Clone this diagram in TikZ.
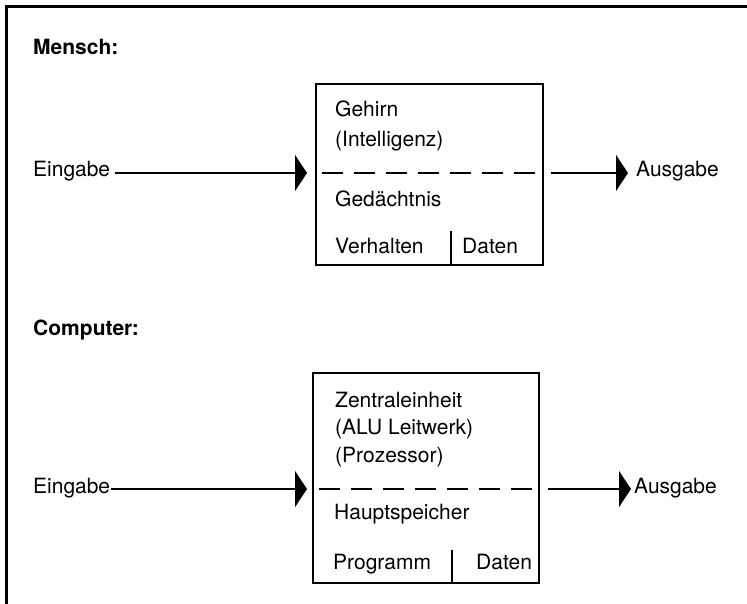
\documentclass[tikz,border=0pt]{standalone}
\usepackage{fontspec}
\setmainfont{TeX Gyre Heros}
\usetikzlibrary{arrows.meta}

\begin{document}
\begin{tikzpicture}[x=1pt, y=-1pt,
    txt/.style={anchor=base west, inner sep=0pt, font=\fontsize{21}{25}\selectfont},
    titel/.style={anchor=base west, inner sep=0pt, font=\fontsize{21}{25}\selectfont\bfseries},
    kasten/.style={draw, line width=2.5pt, inner sep=0pt},
    pfeil/.style={line width=1.8pt, -{Triangle[length=12pt, width=36pt]}},
    trenn/.style={line width=2pt, dash pattern=on 21pt off 11pt}]
  \useasboundingbox (0,0) rectangle (747,604);
  \draw[line width=3pt] (6,604) -- (6,7) -- (747,7);

  % Mensch
  \node[titel] (mensch) at (33,55) {Mensch:};
  \node[kasten, minimum width=227pt, minimum height=181pt] (hirn) at (429.5,174.5) {};
  \node[txt] (gehirn) at (335,117) {Gehirn};
  \node[txt] (intel) at (335,147) {(Intelligenz)};
  \node[txt] (gedae) at (335,207) {Gedächtnis};
  \node[txt] (verh) at (335,254) {Verhalten};
  \node[txt] (daten1) at (462,254) {Daten};
  \draw[line width=2.5pt] (451,231) -- (451,231 |- hirn.south);
  \coordinate (tl1) at (316,173);
  \coordinate (tr1) at (543,173);
  \draw[trenn, shorten <=6pt, shorten >=6pt] (tl1) -- (tr1);
  \node[txt] (ein1) at (33,177) {Eingabe};
  \node[txt] (aus1) at (636,177) {Ausgabe};
  \draw[pfeil, shorten <=5pt, shorten >=9pt] (ein1.east |- tl1) -- (tl1);
  \draw[pfeil, shorten <=8pt, shorten >=8pt] (tr1) -- (tr1 -| aus1.west);

  % Computer
  \node[titel] (comp) at (33,335) {Computer:};
  \node[kasten, minimum width=226pt, minimum height=210pt] (rechner) at (426,478) {};
  \node[txt] (zentral) at (335,407) {Zentraleinheit};
  \node[txt] (alu) at (335,434) {(ALU Leitwerk)};
  \node[txt] (proz) at (335,462) {(Prozessor)};
  \node[txt] (haupt) at (334,519) {Hauptspeicher};
  \node[txt] (prog) at (333,569) {Programm};
  \node[txt] (daten2) at (476,569) {Daten};
  \draw[line width=2.5pt] (452,550) -- (452,550 |- rechner.south);
  \coordinate (tl2) at (313,489);
  \coordinate (tr2) at (539,489);
  \draw[trenn, shorten <=6pt, shorten >=6pt] (tl2) -- (tr2);
  \node[txt] (ein2) at (33,493) {Eingabe};
  \node[txt] (aus2) at (634,493) {Ausgabe};
  \draw[pfeil, shorten <=1pt, shorten >=6pt] (ein2.east |- tl2) -- (tl2);
  \draw[pfeil, shorten <=9pt, shorten >=3pt] (tr2) -- (tr2 -| aus2.west);
\end{tikzpicture}
\end{document}
